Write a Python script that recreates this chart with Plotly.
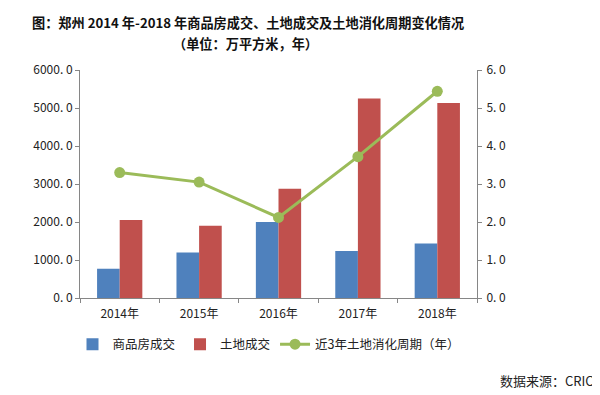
import plotly.graph_objects as go

categories = ["2014年", "2015年", "2016年", "2017年", "2018年"]
housing_sales = [770, 1196, 2000, 1240, 1432]
land_sales = [2053, 1904, 2875, 5253, 5130]
land_cycle = [3.30, 3.05, 2.12, 3.72, 5.44]

left_ticks = [0, 1000, 2000, 3000, 4000, 5000, 6000]
left_ticktext = ["0. 0", "1000. 0", "2000. 0", "3000. 0", "4000. 0", "5000. 0", "6000. 0"]
right_ticks = [0, 1, 2, 3, 4, 5, 6]
right_ticktext = ["0. 0", "1. 0", "2. 0", "3. 0", "4. 0", "5. 0", "6. 0"]

BLUE = "#4F81BD"
RED = "#C0504D"
GREEN = "#9BBB59"
AXIS = "#868686"
FONT = "Noto Sans CJK SC"

fig = go.Figure()
fig.add_trace(go.Bar(x=categories, y=housing_sales, name="商品房成交",
                     marker=dict(color=BLUE, line=dict(width=0))))
fig.add_trace(go.Bar(x=categories, y=land_sales, name="土地成交",
                     marker=dict(color=RED, line=dict(width=0))))
fig.add_trace(go.Scatter(x=categories, y=land_cycle, name="近3年土地消化周期（年）",
                         yaxis="y2", mode="lines+markers",
                         line=dict(color=GREEN, width=3),
                         marker=dict(color=GREEN, size=11)))

# page has an 8px body margin; figure is sized to fill the rest of the window
OFF = 8
W, H = 600 - OFF, 395 - OFF
# target plot box in page pixels
PL, PR, PT, PB = 79.5, 476.7, 69.5, 298.3
L, R, T, B = PL - OFF, W - (PR - OFF), PT - OFF, H - (PB - OFF)
ph = PB - PT
pw = PR - PL

def py(ypx):
    return (PB - ypx) / ph

def px(xpx):
    return (xpx - PL) / pw

fig.update_layout(
    width=W, height=H,
    margin=dict(l=L, r=R, t=T, b=B, pad=0),
    paper_bgcolor="white", plot_bgcolor="white",
    font=dict(family=FONT, size=12, color="#222222"),
    barmode="group", bargap=0.43, bargroupgap=0,
    showlegend=True,
    legend=dict(orientation="h", x=px(72), xanchor="left", y=py(345), yanchor="middle",
                font=dict(size=12.5, color="#222222"), itemwidth=30,
                bgcolor="rgba(0,0,0,0)", traceorder="normal"),
    xaxis=dict(showline=True, linecolor=AXIS, linewidth=1, ticks="outside",
               tickson="boundaries", ticklen=4, tickcolor=AXIS, ticklabelstandoff=5,
               tickfont=dict(size=12, color="#222222"), showgrid=False),
    yaxis=dict(range=[0, 6000], tickvals=left_ticks, ticktext=left_ticktext,
               showline=True, linecolor=AXIS, linewidth=1, ticks="outside",
               ticklen=4, tickcolor=AXIS, showgrid=False, zeroline=False,
               tickfont=dict(size=12, color="#222222")),
    yaxis2=dict(range=[0, 6], tickvals=right_ticks, ticktext=right_ticktext,
                overlaying="y", side="right",
                showline=True, linecolor=AXIS, linewidth=1, ticks="outside",
                ticklen=4, tickcolor=AXIS, showgrid=False, zeroline=False,
                ticklabelstandoff=2,
                tickfont=dict(size=12, color="#222222")),
    annotations=[
        dict(text="<b>图：郑州 2014 年-2018 年商品房成交、土地成交及土地消化周期变化情况</b>",
             xref="paper", yref="paper", x=px(247.5), y=py(22), xanchor="center", yanchor="middle",
             showarrow=False, font=dict(size=13.2, color="#111111", family=FONT)),
        dict(text="<b>（单位：万平方米，年）</b>",
             xref="paper", yref="paper", x=px(245), y=py(43), xanchor="center", yanchor="middle",
             showarrow=False, font=dict(size=13.2, color="#111111", family=FONT)),
        dict(text="数据来源：CRIC",
             xref="paper", yref="paper", x=px(596), y=py(381), xanchor="right", yanchor="middle",
             showarrow=False, font=dict(size=13, color="#222222", family=FONT)),
    ],
)

fig.write_html("out.html")
